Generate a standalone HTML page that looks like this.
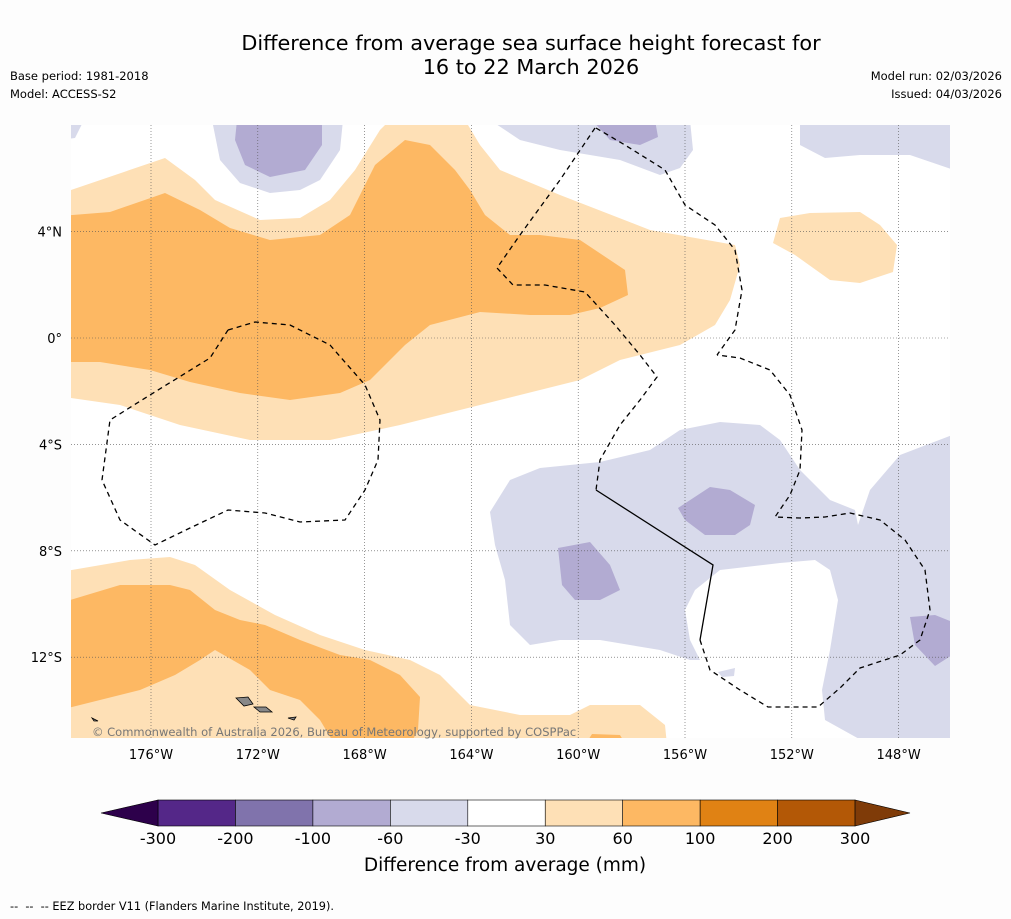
<!DOCTYPE html>
<html><head><meta charset="utf-8"><style>
body{margin:0;background:#fff;font-family:"DejaVu Sans","Liberation Sans",sans-serif;}
#wrap{position:relative;width:1011px;height:919px;background:#fdfdfd;overflow:hidden}
.t{position:absolute;white-space:nowrap;color:#000}
</style></head><body>
<div id="wrap">
<div class="t" style="left:0;width:1062px;top:31px;text-align:center;font-size:20.8px;line-height:24px">Difference from average sea surface height forecast for<br>16 to 22 March 2026</div>
<div class="t" style="left:10px;top:69px;font-size:11.5px">Base period: 1981-2018</div>
<div class="t" style="left:10px;top:87px;font-size:11.5px">Model: ACCESS-S2</div>
<div class="t" style="right:9px;top:69px;font-size:11.5px">Model run: 02/03/2026</div>
<div class="t" style="right:9px;top:87px;font-size:11.5px">Issued: 04/03/2026</div>
<div class="t" style="left:10px;top:900px;font-size:11.3px">-- &nbsp;-- &nbsp;-- EEZ border V11 (Flanders Marine Institute, 2019).</div>
<svg id="map" width="1011" height="919" style="position:absolute;left:0;top:0"></svg>
</div>
<script>
// Colorbar data
const levels=[-300,-200,-100,-60,-30,30,60,100,200,300];
const levelColors=["#542788","#8073ac","#b2abd2","#d8daeb","#ffffff","#fee0b6","#fdb863","#e08214","#b35806"];
const extendColors=["#2d004b","#7f3b08"];
const lonTicks=[-176,-172,-168,-164,-160,-156,-152,-148];
const latTicks=[4,0,-4,-8,-12];

const FF='DejaVu Sans, Liberation Sans, sans-serif';
const NS="http://www.w3.org/2000/svg";
const svg=document.getElementById('map');
const X0=71,X1=950,Y0=125,Y1=738;
const lonX=l=>151+(l+176)*26.7;
const latY=l=>338-l*26.6;
function mk(t,a,p){const e=document.createElementNS(NS,t);for(const k in a)e.setAttribute(k,a[k]);(p||svg).appendChild(e);return e;}
const clip=mk('clipPath',{id:'mc'});mk('rect',{x:X0,y:Y0,width:X1-X0,height:Y1-Y0},clip);
const g=mk('g',{'clip-path':'url(#mc)'});


mk('rect',{x:X0,y:Y0,width:X1-X0,height:Y1-Y0,fill:'#fff'},g);
const shapes=[
 ['light-orange-north','#fee0b6','71,190 165,158 195,180 215,200 260,220 300,218 330,200 355,170 380,130 390,120 465,120 480,145 500,170 560,195 650,230 735,245 740,265 730,300 715,325 680,345 620,360 580,380 520,395 460,410 400,425 330,440 250,440 180,425 120,405 71,398 60,398 60,190'],
 ['orange-north','#fdb863','60,216 110,212 165,193 200,210 230,228 270,240 320,235 350,215 375,165 405,140 430,145 455,170 470,190 485,215 510,235 540,235 580,240 625,270 628,295 600,308 570,315 530,315 480,312 430,325 405,345 370,380 340,393 290,400 240,393 190,382 150,370 100,362 60,362'],
 ['light-purple-nw','#d8daeb','212,120 343,120 340,150 320,180 300,190 270,193 240,183 220,160'],
 ['purple-nw','#b2abd2','237,120 322,120 322,145 305,170 270,177 245,165 235,140'],
 ['light-purple-n','#d8daeb','490,120 690,120 693,150 680,168 660,175 620,160 560,150 520,140'],
 ['purple-n','#b2abd2','592,120 655,120 658,137 640,145 610,140'],
 ['light-purple-ne','#d8daeb','800,120 960,120 960,172 910,155 860,155 825,158 800,145'],
 ['light-purple-tl','#d8daeb','60,120 84,120 75,138 60,140'],
 ['light-orange-ne','#fee0b6','780,218 810,213 860,212 880,225 897,245 893,272 860,283 830,280 795,255 773,243'],
 ['light-purple-se','#d8daeb','490,512 510,480 540,468 600,462 650,450 680,430 720,422 760,425 780,440 800,470 830,500 855,510 858,525 870,490 900,455 960,432 960,745 870,745 825,720 822,690 830,650 838,600 830,570 815,560 780,563 720,570 695,590 685,610 690,640 700,660 690,660 660,650 600,640 560,640 530,645 510,625 505,580 495,545'],
 ['purple-se1','#b2abd2','678,508 710,487 730,490 755,505 750,525 735,535 705,535 685,520'],
 ['purple-se2','#b2abd2','558,548 590,542 610,565 620,590 600,600 575,600 562,585'],
 ['purple-se3','#b2abd2','910,617 935,615 960,625 960,650 935,666 915,645'],
 ['light-purple-dot','#d8daeb','718,672 735,668 734,676 722,677'],
 ['light-orange-sw','#fee0b6','60,572 130,560 170,557 195,565 230,590 275,615 320,635 365,650 410,660 440,675 470,705 520,715 570,715 590,705 640,705 665,725 667,745 60,745'],
 ['orange-sw','#fdb863','60,603 120,585 170,585 190,590 215,610 240,620 265,625 300,640 340,655 370,660 400,675 420,697 418,730 410,745 335,745 320,720 300,700 270,690 250,670 215,650 200,660 175,675 140,690 100,700 60,710'],
 ['orange-s-small','#fdb863','585,745 592,734 620,735 626,745']
];
shapes.forEach(s=>{const p=mk('polygon',{points:s[2],fill:s[1]},g);

});
[['236,698 248,697 253,704 244,706'],['254,707 266,707 272,712 260,712'],['288,718 296,717 294,720'],['92,718 98,721 94,721']].forEach(s=>{const p=mk('polygon',{points:s[0],fill:'#888',stroke:'#000','stroke-width':0.8},g);

});
lonTicks.forEach(l=>{const x=lonX(l);const ln=mk('line',{x1:x,x2:x,y1:Y0,y2:Y1,stroke:'#555','stroke-width':0.6,'stroke-dasharray':'1,2'},g);


const t=mk('text',{x:x,y:Y1+21,'text-anchor':'middle','font-size':13,'font-family':FF});t.textContent=Math.abs(l)+'°W';

});
latTicks.forEach(l=>{const y=latY(l);const ln=mk('line',{x1:X0,x2:X1,y1:y,y2:y,stroke:'#555','stroke-width':0.6,'stroke-dasharray':'1,2'},g);


const t=mk('text',{x:62,y:y+5,'text-anchor':'end','font-size':13,'font-family':FF});t.textContent=l===0?'0°':Math.abs(l)+'°'+(l>0?'N':'S');

});
const eez=[
 ['228,330 255,322 290,325 330,345 365,385 380,420 378,460 365,490 345,520 300,522 265,513 228,510 190,528 155,545 120,520 102,480 110,420 150,395 210,358 228,330',1],
 ['596,128 625,145 665,170 685,205 715,225 735,250 742,290 735,330 717,355',1],
 ['595,128 560,180 520,235 497,268 513,285 545,285 585,292 615,325 640,355 657,377 640,400 620,425 600,460 596,490',1],
 ['596,490 713,565 700,640',0],
 ['700,640 710,670 740,690 768,707 818,707 840,688 860,668 900,655 920,640 930,610 925,570 905,540 880,520 850,513 825,517 800,518 775,517 790,495 800,470 802,430 790,395 770,370 740,358 717,355',1]
];
eez.forEach(e=>{const p=mk('polyline',{points:e[0],fill:'none',stroke:'#000','stroke-width':1.3,'stroke-dasharray':e[1]?'5,4':'none'},g);

});
const cp=mk('text',{x:92,y:736,'font-size':11.5,fill:'#777','font-family':FF});cp.textContent='© Commonwealth of Australia 2026, Bureau of Meteorology, supported by COSPPac';


const CB0=158,CBW=77.45,CBY=800,CBH=26;
const cb=mk('g',{});


levelColors.forEach((c,i)=>{const r=mk('rect',{x:CB0+i*CBW,y:CBY,width:CBW,height:CBH,fill:c,stroke:'#000','stroke-width':0.6},cb);

});
const n=levelColors.length;
const lt=mk('polygon',{points:`${CB0},${CBY} ${CB0},${CBY+CBH} 101,${CBY+CBH/2}`,fill:extendColors[0],stroke:'#000','stroke-width':0.6},cb);


const rt=mk('polygon',{points:`${CB0+n*CBW},${CBY} ${CB0+n*CBW},${CBY+CBH} 910,${CBY+CBH/2}`,fill:extendColors[1],stroke:'#000','stroke-width':0.6},cb);


levels.forEach((v,i)=>{const t=mk('text',{x:CB0+i*CBW,y:844,'text-anchor':'middle','font-size':16,'font-family':FF},cb);t.textContent=v;

});
const ct=mk('text',{x:505,y:871,'text-anchor':'middle','font-size':18.5,'font-family':FF},cb);ct.textContent='Difference from average (mm)';


</script>
</body></html>
